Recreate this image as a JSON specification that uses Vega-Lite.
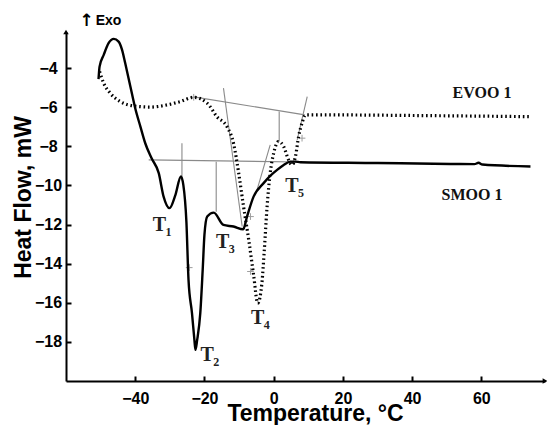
{
  "$schema": "https://vega.github.io/schema/vega-lite/v6.json",
  "width": 479,
  "height": 349,
  "autosize": {"type": "none"},
  "padding": {"left": 66, "top": 32, "right": 2, "bottom": 44},
  "background": "white",
  "config": {
    "view": {"stroke": null},
    "axis": {
      "domainColor": "black", "domainWidth": 2, "tickColor": "black", "tickWidth": 2, "tickSize": -5,
      "labelFont": "Liberation Sans", "labelFontWeight": "bold", "labelFontSize": 16, "labelColor": "black",
      "titleFont": "Liberation Sans", "titleFontWeight": "bold", "titleFontSize": 23, "titleColor": "black",
      "grid": false
    }
  },
  "datasets": {
    "smoo": [
      {"t": -50.6, "hf": -4.56}, {"t": -50.3, "hf": -3.92}, {"t": -49.1, "hf": -3.32}, {"t": -47.7, "hf": -2.72},
      {"t": -46.2, "hf": -2.50}, {"t": -44.8, "hf": -2.64}, {"t": -43.8, "hf": -3.06}, {"t": -42.9, "hf": -3.74},
      {"t": -41.4, "hf": -4.94}, {"t": -40.0, "hf": -6.05}, {"t": -38.5, "hf": -6.99}, {"t": -37.1, "hf": -7.84},
      {"t": -35.3, "hf": -8.60}, {"t": -33.2, "hf": -9.37}, {"t": -31.8, "hf": -10.57}, {"t": -30.1, "hf": -11.16},
      {"t": -28.4, "hf": -10.49}, {"t": -26.8, "hf": -9.54}, {"t": -26.1, "hf": -9.97}, {"t": -25.2, "hf": -11.9},
      {"t": -24.6, "hf": -14.83}, {"t": -23.6, "hf": -16.53}, {"t": -22.9, "hf": -17.9}, {"t": -22.6, "hf": -18.41},
      {"t": -22.1, "hf": -17.9}, {"t": -21.2, "hf": -16.53}, {"t": -20.5, "hf": -14.3}, {"t": -20.0, "hf": -12.53},
      {"t": -19.2, "hf": -11.59}, {"t": -17.3, "hf": -11.39}, {"t": -14.5, "hf": -12.02}, {"t": -11.6, "hf": -12.10},
      {"t": -8.8, "hf": -12.24}, {"t": -7.7, "hf": -11.59}, {"t": -5.8, "hf": -10.57}, {"t": -2.9, "hf": -9.88},
      {"t": -1.0, "hf": -9.51}, {"t": 1.0, "hf": -9.20}, {"t": 2.9, "hf": -8.95}, {"t": 4.8, "hf": -8.78},
      {"t": 6.3, "hf": -8.78}, {"t": 7.7, "hf": -8.81}, {"t": 30.0, "hf": -8.85}, {"t": 51.1, "hf": -8.90},
      {"t": 58.0, "hf": -8.91}, {"t": 59.2, "hf": -8.84}, {"t": 60.3, "hf": -8.93}, {"t": 74.2, "hf": -9.03}
    ],
    "evoo": [
      {"t": -50.3, "hf": -4.17}, {"t": -49.1, "hf": -4.77}, {"t": -47.2, "hf": -5.28}, {"t": -44.3, "hf": -5.71},
      {"t": -40.5, "hf": -5.93}, {"t": -35.6, "hf": -5.99}, {"t": -30.8, "hf": -5.88}, {"t": -27.0, "hf": -5.71},
      {"t": -23.1, "hf": -5.49}, {"t": -19.2, "hf": -5.79}, {"t": -16.4, "hf": -6.48}, {"t": -13.5, "hf": -6.99},
      {"t": -11.6, "hf": -7.84}, {"t": -10.1, "hf": -9.37}, {"t": -8.7, "hf": -11.08}, {"t": -7.2, "hf": -12.78},
      {"t": -5.8, "hf": -14.57}, {"t": -4.6, "hf": -16.02}, {"t": -3.4, "hf": -15.0}, {"t": -2.7, "hf": -13.3},
      {"t": -1.9, "hf": -11.08}, {"t": -1.0, "hf": -9.37}, {"t": 0.0, "hf": -8.35}, {"t": 1.4, "hf": -7.75},
      {"t": 2.9, "hf": -8.01}, {"t": 4.3, "hf": -8.69}, {"t": 5.3, "hf": -8.95}, {"t": 6.3, "hf": -8.52},
      {"t": 7.2, "hf": -7.50}, {"t": 8.2, "hf": -6.81}, {"t": 9.2, "hf": -6.39}, {"t": 16.4, "hf": -6.39},
      {"t": 40.0, "hf": -6.42}, {"t": 74.2, "hf": -6.48}
    ],
    "guides": [
      {"seg": "g1", "t": -36.1, "hf": -8.69}, {"seg": "g1", "t": 7.0, "hf": -8.8},
      {"seg": "g2", "t": -23.1, "hf": -5.47}, {"seg": "g2", "t": 9.0, "hf": -6.39},
      {"seg": "g3", "t": -26.5, "hf": -7.84}, {"seg": "g3", "t": -26.5, "hf": -9.54},
      {"seg": "g4", "t": -16.6, "hf": -8.78}, {"seg": "g4", "t": -16.6, "hf": -11.34},
      {"seg": "g5", "t": -14.5, "hf": -5.02}, {"seg": "g5", "t": -9.1, "hf": -12.1},
      {"seg": "g6", "t": -1.0, "hf": -7.92}, {"seg": "g6", "t": -4.8, "hf": -10.22},
      {"seg": "g7", "t": 1.6, "hf": -6.22}, {"seg": "g7", "t": 1.6, "hf": -7.75},
      {"seg": "g8", "t": 9.7, "hf": -5.45}, {"seg": "g8", "t": 6.8, "hf": -7.67}
    ],
    "crosses": [
      {"t": -23.1, "hf": -5.49}, {"t": -24.4, "hf": -14.2}, {"t": -6.7, "hf": -11.59},
      {"t": -6.7, "hf": -14.4}, {"t": 8.2, "hf": -7.58}, {"t": 5.8, "hf": -8.78}
    ],
    "tlabels": [
      {"t": -33.0, "hf": -12.02, "main": "T", "sub": "1"},
      {"t": -19.2, "hf": -18.67, "main": "T", "sub": "2"},
      {"t": -14.7, "hf": -12.87, "main": "T", "sub": "3"},
      {"t": -4.6, "hf": -16.79, "main": "T", "sub": "4"},
      {"t": 5.3, "hf": -10.04, "main": "T", "sub": "5"}
    ],
    "names": [
      {"t": 60.2, "hf": -5.28, "name": "EVOO 1"},
      {"t": 57.3, "hf": -10.48, "name": "SMOO 1"}
    ],
    "arrows": [
      {"t": -60, "hf": -2.15, "shape": "triangle-up"},
      {"t": 78.4, "hf": -20, "shape": "triangle-right"}
    ],
    "exo": [{"t": -54.9, "hf": -1.6, "arrow": "↑", "text": "Exo"}]
  },
  "layer": [
    {
      "data": {"name": "guides"},
      "mark": {"type": "line", "color": "#8a8a8a", "strokeWidth": 1.1},
      "encoding": {
        "x": {"field": "t", "type": "quantitative", "scale": {"domain": [-60, 78.4], "nice": false, "zero": false},
          "axis": {"values": [-40, -20, 0, 20, 40, 60], "title": "Temperature, °C", "labelPadding": 14,
            "titleX": 249, "titleY": 39, "titleBaseline": "alphabetic", "titleAlign": "center"}},
        "y": {"field": "hf", "type": "quantitative", "scale": {"domain": [-20, -2.15], "nice": false, "zero": false},
          "axis": {"values": [-18, -16, -14, -12, -10, -8, -6, -4], "title": "Heat Flow, mW", "labelAlign": "center",
            "labelPadding": 23, "titleX": -36, "titleY": 165, "titleBaseline": "alphabetic", "titleAlign": "center"}},
        "detail": {"field": "seg"},
        "order": {"value": 0}
      }
    },
    {
      "data": {"name": "crosses"},
      "mark": {"type": "point", "shape": "M-1,0H1M0,-1V1", "size": 45, "stroke": "#777", "strokeWidth": 1, "filled": false},
      "encoding": {"x": {"field": "t", "type": "quantitative"}, "y": {"field": "hf", "type": "quantitative"}}
    },
    {
      "data": {"name": "evoo"},
      "mark": {"type": "line", "color": "black", "strokeWidth": 3.2, "strokeDash": [1.6, 2.8], "interpolate": "monotone"},
      "encoding": {"x": {"field": "t", "type": "quantitative"}, "y": {"field": "hf", "type": "quantitative"}}
    },
    {
      "data": {"name": "smoo"},
      "mark": {"type": "line", "color": "black", "strokeWidth": 2.4, "interpolate": "monotone"},
      "encoding": {"x": {"field": "t", "type": "quantitative"}, "y": {"field": "hf", "type": "quantitative"}}
    },
    {
      "data": {"name": "tlabels"},
      "mark": {"type": "text", "font": "Liberation Serif", "fontWeight": "bold", "fontSize": 20, "color": "#222", "align": "center", "baseline": "middle"},
      "encoding": {"x": {"field": "t", "type": "quantitative"}, "y": {"field": "hf", "type": "quantitative"}, "text": {"field": "main"}}
    },
    {
      "data": {"name": "tlabels"},
      "mark": {"type": "text", "font": "Liberation Serif", "fontWeight": "bold", "fontSize": 12, "color": "#222", "align": "center", "baseline": "middle", "dx": 9, "dy": 7},
      "encoding": {"x": {"field": "t", "type": "quantitative"}, "y": {"field": "hf", "type": "quantitative"}, "text": {"field": "sub"}}
    },
    {
      "data": {"name": "names"},
      "mark": {"type": "text", "font": "Liberation Serif", "fontWeight": "bold", "fontSize": 16, "color": "#111", "align": "center", "baseline": "middle"},
      "encoding": {"x": {"field": "t", "type": "quantitative"}, "y": {"field": "hf", "type": "quantitative"}, "text": {"field": "name"}}
    },
    {
      "data": {"name": "arrows"},
      "mark": {"type": "point", "filled": true, "color": "black", "size": 30, "opacity": 1},
      "encoding": {"x": {"field": "t", "type": "quantitative"}, "y": {"field": "hf", "type": "quantitative"}, "shape": {"field": "shape", "type": "nominal", "scale": null}}
    },
    {
      "data": {"name": "exo"},
      "mark": {"type": "text", "font": "DejaVu Sans", "fontWeight": "bold", "fontSize": 17, "color": "black", "align": "center", "baseline": "middle", "dx": 3},
      "encoding": {"x": {"field": "t", "type": "quantitative"}, "y": {"field": "hf", "type": "quantitative"}, "text": {"field": "arrow"}}
    },
    {
      "data": {"name": "exo"},
      "mark": {"type": "text", "font": "Liberation Sans", "fontWeight": "bold", "fontSize": 14, "color": "black", "align": "left", "baseline": "middle", "dx": 12},
      "encoding": {"x": {"field": "t", "type": "quantitative"}, "y": {"field": "hf", "type": "quantitative"}, "text": {"field": "text"}}
    }
  ]
}
